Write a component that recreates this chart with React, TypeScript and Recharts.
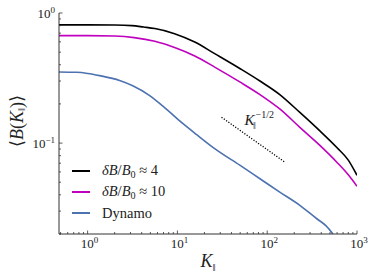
import React from 'react';
import { LineChart, Line, XAxis, YAxis, Legend, ReferenceDot } from 'recharts';

// ---- data ----
const kBlack = [0.48, 1, 2, 3.1, 4.2, 5.6, 9.3, 15.6, 26, 50, 83, 138, 231, 386, 600, 800, 1000];
const bBlack = [0.81, 0.81, 0.808, 0.8, 0.78, 0.759, 0.694, 0.598, 0.487, 0.373, 0.3, 0.236, 0.172, 0.124, 0.092, 0.074, 0.0565];

const kMagenta = [0.48, 1, 2, 3.3, 5.6, 9.3, 15.6, 26, 50, 83, 138, 231, 386, 600, 800, 1000];
const bMagenta = [0.67, 0.67, 0.665, 0.647, 0.606, 0.542, 0.467, 0.384, 0.294, 0.236, 0.183, 0.132, 0.096, 0.071, 0.057, 0.0465];

const kDynamo = [0.48, 0.75, 1, 1.36, 2.27, 3.18, 4.91, 6.85, 10.6, 16.4, 26, 50, 83, 138, 231, 357, 450, 540];
const bDynamo = [0.352, 0.35, 0.343, 0.33, 0.303, 0.276, 0.232, 0.193, 0.148, 0.116, 0.0906, 0.0673, 0.0532, 0.042, 0.0332, 0.0262, 0.0232, 0.02];

const kGuide = [31, 157];
const bGuide = [0.158, 0.0714];
const guideLabelAt = { x: 56, y: 0.137 };

const seriesNames = ['δB/B0 ≈ 4', 'δB/B0 ≈ 10', 'Dynamo'];

const xMajor = [1, 10, 100, 1000];
const xMinor = [0.5, 0.6, 0.7, 0.8, 0.9, 2, 3, 4, 5, 6, 7, 8, 9, 20, 30, 40, 50, 60, 70, 80, 90, 200, 300, 400, 500, 600, 700, 800, 900];
const yMajor = [0.1, 1];
const yMinor = [0.02, 0.03, 0.04, 0.05, 0.06, 0.07, 0.08, 0.09, 0.2, 0.3, 0.4, 0.5, 0.6, 0.7, 0.8, 0.9];

const xDomain = [0.48, 1000];
const yDomain = [0.02, 1];

// ---- build tables ----
const zip = (xs: number[], ys: number[]) => xs.map((x, i) => ({ k: x, b: ys[i] }));
const blackData = zip(kBlack, bBlack);
const magentaData = zip(kMagenta, bMagenta);
const dynamoData = zip(kDynamo, bDynamo);
const guideData = zip(kGuide, bGuide);

const xTicks = [...xMinor, ...xMajor].sort((a, b) => a - b);
const yTicks = [...yMinor, ...yMajor].sort((a, b) => a - b);

const COLORS = ['#000000', '#bf00bf', '#4c72b0'];
const FONT = '"Liberation Serif", "DejaVu Serif", serif';
const AXIS = '#333333';
const TXT = '#222222';
const PAR = '‖';

const isMajor = (v: number) => Math.abs(Math.log10(v) - Math.round(Math.log10(v))) < 1e-6;
const expStr = (v: number) => String(Math.round(Math.log10(v))).replace('-', '−');

const MAJ = 3.5;
const MIN = 2;

const Pow = ({ x, y, v, anchor }: any) => (
  <text x={x} y={y} textAnchor={anchor} fontFamily={FONT} fontSize={13} fill={TXT}>
    10<tspan dy={-5} fontSize={9}>{expStr(v)}</tspan>
  </text>
);

const BottomTick = (p: any) => {
  const { x, y, payload } = p;
  const v = payload.value;
  const m = isMajor(v);
  return (
    <g>
      <line x1={x} x2={x} y1={y} y2={y - (m ? MAJ : MIN)} stroke={AXIS} strokeWidth={0.8} />
      {m && <Pow x={x + 2} y={y + 14} v={v} anchor="middle" />}
    </g>
  );
};
const TopTick = (p: any) => {
  const { x, y, payload } = p;
  const m = isMajor(payload.value);
  return <line x1={x} x2={x} y1={y} y2={y + (m ? MAJ : MIN)} stroke={AXIS} strokeWidth={0.8} />;
};
const LeftTick = (p: any) => {
  const { x, y, payload } = p;
  const v = payload.value;
  const m = isMajor(v);
  return (
    <g>
      <line x1={x} x2={x + (m ? MAJ : MIN)} y1={y} y2={y} stroke={AXIS} strokeWidth={0.8} />
      {m && <Pow x={x - 4} y={y + 4.5} v={v} anchor="end" />}
    </g>
  );
};
const RightTick = (p: any) => {
  const { x, y, payload } = p;
  const m = isMajor(payload.value);
  return <line x1={x} x2={x - (m ? MAJ : MIN)} y1={y} y2={y} stroke={AXIS} strokeWidth={0.8} />;
};

const XLabel = (p: any) => {
  const vb = p.viewBox;
  const cx = vb.x + vb.width / 2;
  return (
    <text x={cx} y={vb.y + 33} textAnchor="middle" fontFamily={FONT} fontSize={18} fill={TXT}>
      <tspan fontStyle="italic">K</tspan>
      <tspan fontSize={11} dy={4}>{PAR}</tspan>
    </text>
  );
};

const YLabel = (p: any) => {
  const vb = p.viewBox;
  const cx = vb.x + 17;
  const cy = vb.y + vb.height / 2 - 2.5;
  return (
    <text
      x={cx}
      y={cy}
      transform={`rotate(-90, ${cx}, ${cy})`}
      textAnchor="middle"
      dominantBaseline="central"
      fontFamily={FONT}
      fontSize={18}
      fill={TXT}
    >
      ⟨<tspan fontStyle="italic">B</tspan>(<tspan fontStyle="italic">K</tspan>
      <tspan fontSize={11} dy={4}>{PAR}</tspan>
      <tspan dy={-4}>)⟩</tspan>
    </text>
  );
};

const GuideLabel = (p: any) => {
  const vb = p.viewBox;
  const x = vb.x;
  const y = vb.y;
  return (
    <text fontFamily={FONT} fill={TXT}>
      <tspan x={x} y={y} fontSize={15} fontStyle="italic">K</tspan>
      <tspan x={x + 8.5} y={y + 4} fontSize={10}>{PAR}</tspan>
      <tspan x={x + 11} y={y - 7} fontSize={10}>−1/2</tspan>
    </text>
  );
};

const SeriesLabel = ({ name }: { name: string }) => {
  const m = name.match(/^δB\/B0 ≈ (\d+)$/);
  if (!m) return <span>{name}</span>;
  return (
    <span>
      <i>δB</i>/<i>B</i>
      <span style={{ fontSize: '0.7em', position: 'relative', top: '0.3em' }}>0</span>
      {' ≈ '}
      {m[1]}
    </span>
  );
};

const LegendContent = (p: any) => {
  const items = (p.payload || [])
    .filter((e: any) => seriesNames.includes(e.value))
    .sort((a: any, b: any) => seriesNames.indexOf(a.value) - seriesNames.indexOf(b.value));
  return (
    <div style={{ fontFamily: FONT, fontSize: 14.5, color: TXT }}>
      {items.map((e: any) => (
        <div key={e.value} style={{ display: 'flex', alignItems: 'center', height: 21.3, whiteSpace: 'nowrap' }}>
          <svg width={18} height={4} style={{ marginRight: 12 }}>
            <line x1={0} x2={18} y1={2} y2={2} stroke={e.color} strokeWidth={2} />
          </svg>
          <SeriesLabel name={e.value} />
        </div>
      ))}
    </div>
  );
};

export default function App() {
  return (
    <div style={{ position: 'absolute', left: 0, top: 0, width: 374, height: 280, background: '#fff' }}>
      <LineChart width={374} height={280} margin={{ top: 13, right: 17, bottom: 0, left: 0 }}>
        <XAxis
          xAxisId="bottom"
          dataKey="k"
          type="number"
          scale="log"
          domain={xDomain}
          allowDataOverflow
          ticks={xTicks}
          interval={0}
          height={46}
          tickSize={0}
          tickMargin={0}
          tickLine={false}
          tick={BottomTick}
          axisLine={{ stroke: AXIS, strokeWidth: 1 }}
          label={{ content: XLabel }}
        />
        <XAxis
          xAxisId="top"
          orientation="top"
          dataKey="k"
          type="number"
          scale="log"
          domain={xDomain}
          allowDataOverflow
          ticks={xTicks}
          interval={0}
          height={0}
          tickSize={0}
          tickMargin={0}
          tickLine={false}
          tick={TopTick}
          axisLine={{ stroke: AXIS, strokeWidth: 1 }}
        />
        <YAxis
          yAxisId="left"
          type="number"
          scale="log"
          domain={yDomain}
          allowDataOverflow
          ticks={yTicks}
          interval={0}
          width={59}
          tickSize={0}
          tickMargin={0}
          tickLine={false}
          tick={LeftTick}
          axisLine={{ stroke: AXIS, strokeWidth: 1 }}
          label={{ content: YLabel }}
        />
        <YAxis
          yAxisId="right"
          orientation="right"
          type="number"
          scale="log"
          domain={yDomain}
          allowDataOverflow
          ticks={yTicks}
          interval={0}
          width={0}
          tickSize={0}
          tickMargin={0}
          tickLine={false}
          tick={RightTick}
          axisLine={{ stroke: AXIS, strokeWidth: 1 }}
        />
        <Line xAxisId="bottom" yAxisId="left" data={dynamoData} dataKey="b" name={seriesNames[2]} stroke={COLORS[2]} strokeWidth={1.6} dot={false} isAnimationActive={false} type="monotone" />
        <Line xAxisId="bottom" yAxisId="left" data={magentaData} dataKey="b" name={seriesNames[1]} stroke={COLORS[1]} strokeWidth={1.6} dot={false} isAnimationActive={false} type="monotone" />
        <Line xAxisId="bottom" yAxisId="left" data={blackData} dataKey="b" name={seriesNames[0]} stroke={COLORS[0]} strokeWidth={1.6} dot={false} isAnimationActive={false} type="monotone" />
        <Line xAxisId="bottom" yAxisId="left" data={guideData} dataKey="b" name="guide" legendType="none" stroke="#000" strokeWidth={1.3} strokeDasharray="1.2 1.6" dot={false} isAnimationActive={false} type="linear" />
        <ReferenceDot xAxisId="bottom" yAxisId="left" x={guideLabelAt.x} y={guideLabelAt.y} r={0} fill="none" stroke="none" label={{ content: GuideLabel }} />
        <Legend
          layout="vertical"
          align="center"
          verticalAlign="middle"
          content={LegendContent}
          wrapperStyle={{ left: 72, top: 160, width: 200, margin: 0, padding: 0 }}
        />
      </LineChart>
    </div>
  );
}
